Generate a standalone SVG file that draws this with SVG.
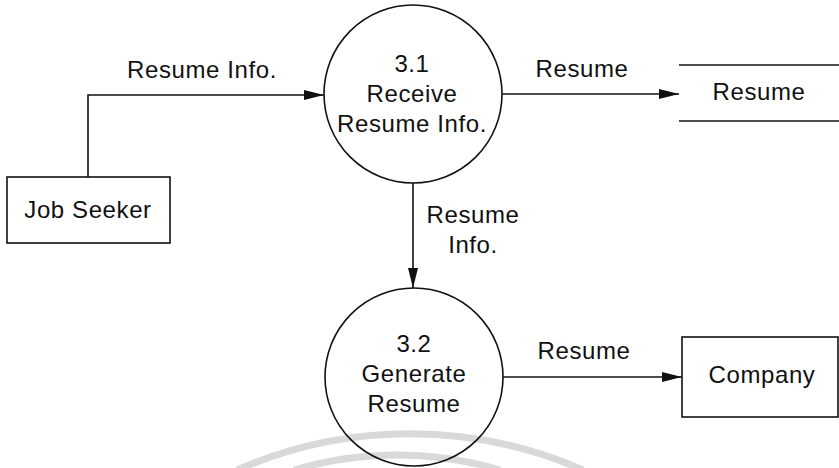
<svg xmlns="http://www.w3.org/2000/svg" width="839" height="468" viewBox="0 0 839 468">
  <style>
    text { font-family: "Liberation Sans", Arial, sans-serif; font-size: 24px; letter-spacing: 0.6px; fill: #111; text-anchor: middle; }
    .shape { fill: none; stroke: #111; stroke-width: 1.6; }
    .flow { fill: none; stroke: #111; stroke-width: 1.6; marker-end: url(#arrow); }
    .mark { fill: none; stroke: #d9d9d9; stroke-width: 7; }
  </style>
  <defs>
    <marker id="arrow" markerUnits="userSpaceOnUse" markerWidth="20" markerHeight="10" refX="20" refY="5" orient="auto">
      <path d="M0,0 L20,5 L0,10 z" fill="#111"/>
    </marker>
  </defs>
  <rect width="839" height="468" fill="#fff"/>

  <!-- faint background arcs along the bottom edge -->
  <g id="backdrop">
    <path class="mark" d="M237 470 A 430 430 0 0 1 583 470"/>
    <path class="mark" d="M294 470 A 360 360 0 0 1 500 470"/>
  </g>

  <!-- data flows -->
  <g id="connectors">
    <path class="flow" d="M88 177 V95 H324"/>
    <text x="202" y="78">Resume Info.</text>
    <path class="flow" d="M502 94 H679"/>
    <text x="582" y="77">Resume</text>
    <path class="flow" d="M413 183 V288"/>
    <text x="473" y="223">Resume</text>
    <text x="473" y="253">Info.</text>
    <path class="flow" d="M503 377 H682"/>
    <text x="584" y="359">Resume</text>
  </g>

  <g id="job-seeker">
    <rect class="shape" x="7" y="177" width="163" height="66"/>
    <text x="88" y="218">Job Seeker</text>
  </g>

  <g id="process-3-1">
    <circle class="shape" cx="413" cy="94" r="89"/>
    <text x="412" y="72">3.1</text>
    <text x="412" y="102">Receive</text>
    <text x="412" y="132">Resume Info.</text>
  </g>

  <g id="store-resume">
    <line class="shape" x1="679" y1="65" x2="839" y2="65"/>
    <line class="shape" x1="679" y1="121" x2="839" y2="121"/>
    <text x="759" y="100">Resume</text>
  </g>

  <g id="process-3-2">
    <circle class="shape" cx="414" cy="377" r="89"/>
    <text x="414" y="352">3.2</text>
    <text x="414" y="382">Generate</text>
    <text x="414" y="412">Resume</text>
  </g>

  <g id="company">
    <rect class="shape" x="682" y="337" width="156" height="80"/>
    <text x="762" y="383">Company</text>
  </g>
</svg>
